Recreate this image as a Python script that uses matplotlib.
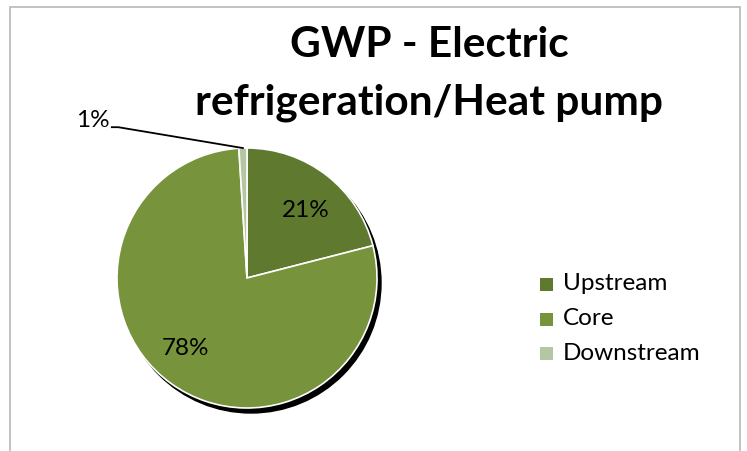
import numpy as np
import matplotlib
matplotlib.use('Agg')
from matplotlib import pyplot as plt
from matplotlib.patches import Circle, Rectangle

categories = ['Upstream', 'Core', 'Downstream']
shares = [21, 78, 1]
colors = ['#5f7a2e', '#77933c', '#b5c6a2']

W, H = 747, 451
fig = plt.figure(figsize=(W / 100, H / 100), dpi=100)

# chart area border (bottom edge cut off like the original)
fig.patches.append(Rectangle((10 / W, -0.05), 730 / W, 1.05 - 7 / H, transform=fig.transFigure,
                             fill=False, edgecolor='#b8b8b8', linewidth=1.2))

# pie axes: center (247, 278) px, radius 130 px
r = 130
ax = fig.add_axes([(247 - r) / W, (H - 278 - r) / H, 2 * r / W, 2 * r / H])
ax.set_xlim(-1, 1)
ax.set_ylim(-1, 1)
ax.set_aspect('equal')
ax.axis('off')

# shadow
ax.add_patch(Circle((4 / r, -5 / r), 1.0, color='black', zorder=0, clip_on=False))

wedges, _ = ax.pie(shares, colors=colors, startangle=90, counterclock=False, radius=1.0,
                   wedgeprops=dict(edgecolor='white', linewidth=1.2), frame=True)
for w in wedges:
    w.set_zorder(1)
    w.set_clip_on(False)
ax.axis('off')

font = ['Lato', 'DejaVu Sans']
fs = 17.5

# slice labels
label_pos = {0: (0.45, 0.52), 1: (-0.47, -0.54)}
for i, (x, y) in label_pos.items():
    ax.text(x, y, f'{shares[i]}%', ha='center', va='center', fontsize=fs, family=font)

# 1% label with leader line
ang = np.deg2rad(90 - 360 * (shares[0] + shares[1] + shares[2] / 2) / 100)
px, py = np.cos(ang), np.sin(ang)
ax.plot([px, -0.99, -1.04], [py, 1.16, 1.16], color='black', lw=1.3, clip_on=False)
ax.text(-1.06, 1.21, f'{shares[2]}%', ha='right', va='center', fontsize=fs, family=font)

# title
fig.text(429 / W, 1 - 45 / H, 'GWP - Electric', ha='center', va='center',
         fontsize=30.5, fontweight='bold', family=font)
fig.text(429 / W, 1 - 103 / H, 'refrigeration/Heat pump', ha='center', va='center',
         fontsize=30.5, fontweight='bold', family=font)

# legend
for i, (name, c) in enumerate(zip(categories, colors)):
    y = 1 - (284 + 34.5 * i) / H
    fig.patches.append(Rectangle((540 / W, y - 7 / H), 13 / W, 13 / H, transform=fig.transFigure,
                                 facecolor=c, edgecolor='none'))
    fig.text(563 / W, y, name, ha='left', va='center', fontsize=fs, family=font)

fig.savefig('out.png', dpi=100)
